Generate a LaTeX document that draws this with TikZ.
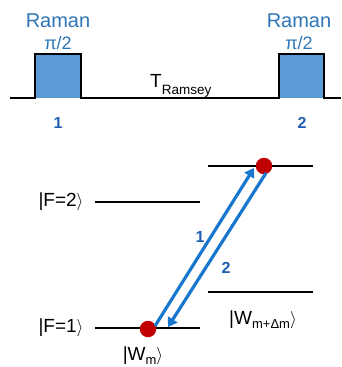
\documentclass[tikz,border=0pt]{standalone}
\usepackage{fontspec}
\setmainfont{Liberation Sans}
\usetikzlibrary{arrows.meta}
\definecolor{pulsefill}{RGB}{91,155,213}
\definecolor{ramanblue}{RGB}{46,117,182}
\definecolor{arrowblue}{RGB}{24,119,204}
\definecolor{labelblue}{RGB}{31,95,175}
\definecolor{dotred}{RGB}{192,0,0}
\begin{document}
\begin{tikzpicture}[x=1pt,y=-1pt,
  ramantext/.style={text=ramanblue, font=\fontsize{20}{20}\selectfont, inner sep=0pt},
  pitext/.style={text=ramanblue, font=\fontsize{18}{18}\selectfont, inner sep=0pt},
  pulselabel/.style={text=labelblue, font=\bfseries\fontsize{16}{16}\selectfont, inner sep=0pt},
  statetext/.style={font=\fontsize{19}{19}\selectfont, inner sep=0pt},
  levelline/.style={line width=2.6pt},
  seqline/.style={line width=1.9pt},
  dot/.style={circle, fill=dotred, minimum size=16.5pt, inner sep=0pt},
  beam/.style={draw=arrowblue, line width=3.2pt, -{Triangle[length=9pt,width=11pt]}}
]
\useasboundingbox (0,0) rectangle (341,367);
% pulse sequence
\fill[pulsefill] (35,98) rectangle (81,54);
\fill[pulsefill] (279,98) rectangle (324,54);
\draw[seqline] (10,98) -- (35,98) -- (35,54) -- (81,54) -- (81,98) -- (279,98) -- (279,54) -- (324,54) -- (324,98) -- (341,98);
\node[ramantext] (r1) at (58,21) {Raman};
\node[pitext] (p1) at (58,43) {π/2};
\node[ramantext] (r2) at (299,21) {Raman};
\node[pitext] (p2) at (299,43) {π/2};
\node[anchor=base west, inner sep=0pt, font=\fontsize{19}{19}\selectfont] (tr) at (150,87) {T\raisebox{-7pt}{\fontsize{13.5}{13.5}\selectfont Ramsey}};
\node[pulselabel] (n1) at (58,123) {1};
\node[pulselabel] (n2) at (302,123) {2};
% levels
\draw[levelline] (208,166) -- (313,166);
\draw[levelline] (95,202) -- (200,202);
\draw[levelline] (208,292) -- (313,292);
\draw[levelline] (95,328) -- (200,328);
\node[statetext] (f2) at (61,202) {|F=2\(\rangle\)};
\node[statetext] (f1) at (61,328) {|F=1\(\rangle\)};
\node[statetext] (wm) at (143,356) {|W\raisebox{-4pt}{\fontsize{13}{13}\selectfont m}\(\rangle\)};
\node[statetext] (wd) at (263,320) {|W\raisebox{-4pt}{\fontsize{13}{13}\selectfont m+Δm}\(\rangle\)};
% atoms
\node[dot] (d1) at (148,329) {};
\node[dot] (d2) at (264,166) {};
% beams
\coordinate (a1s) at (155,326);
\coordinate (a1e) at (254,168);
\coordinate (a2s) at (266,173);
\coordinate (a2e) at (168,327);
\draw[beam] (a1s) -- (a1e);
\draw[beam] (a2s) -- (a2e);
\node[pulselabel] (b1) at (200,237) {1};
\node[pulselabel] (b2) at (226,268) {2};
\end{tikzpicture}
\end{document}
